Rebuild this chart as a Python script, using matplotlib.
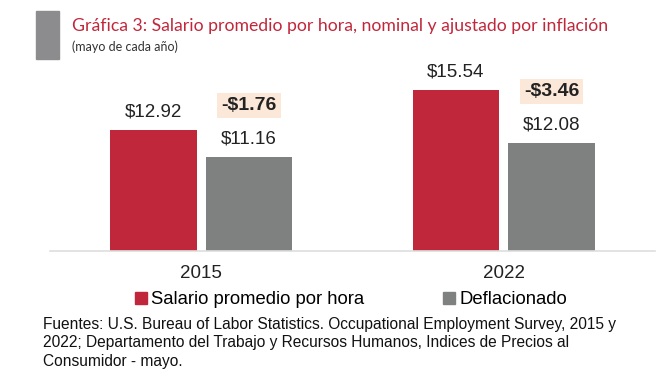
import matplotlib
matplotlib.use('Agg')
import matplotlib.pyplot as plt
from matplotlib.patches import Patch, Rectangle
import numpy as np

years = ['2015', '2022']
nominal = [12.92, 15.54]
deflated = [11.16, 12.08]
series_names = ['Salario promedio por hora', 'Deflacionado']

red = '#c1273b'
gray = '#7f8181'
peach = '#fce8d8'

plt.rcParams['font.family'] = ['Liberation Sans', 'DejaVu Sans']

fig = plt.figure(figsize=(6.67, 3.79), dpi=100)
ax = fig.add_axes([50/667, 1 - 251/379, 605/667, 191/379])

x = np.arange(len(years))
w = 0.285
off = 0.158
ax.bar(x - off, nominal, w, color=red)
ax.bar(x + off, deflated, w, color=gray)

ax.set_xlim(-0.5, 1.5)
ax.set_ylim(5, 17.5)

for i in range(len(years)):
    ax.annotate(f'${nominal[i]:.2f}', (x[i] - off, nominal[i]), xytext=(0, 13),
                textcoords='offset points', ha='center', va='center',
                fontsize=13.5, color='#222222')
    ax.annotate(f'${deflated[i]:.2f}', (x[i] + off, deflated[i]), xytext=(0, 13),
                textcoords='offset points', ha='center', va='center',
                fontsize=13.5, color='#222222')
    diff = deflated[i] - nominal[i]
    ax.annotate(f'-${abs(diff):.2f}', (x[i] + off, deflated[i]), xytext=(0, 37),
                textcoords='offset points', ha='center', va='center',
                fontsize=14, fontweight='bold', color='#222222',
                bbox=dict(boxstyle='square,pad=0.2', fc=peach, ec='none'))

for s in ['top', 'right', 'left']:
    ax.spines[s].set_visible(False)
ax.spines['bottom'].set_color('#dedede')
ax.spines['bottom'].set_linewidth(1.2)
ax.set_yticks([])
ax.set_xticks(x)
ax.set_xticklabels(years, fontsize=13.5, color='#222222')
ax.tick_params(axis='x', length=0, pad=10)

handles = [Patch(color=red), Patch(color=gray)]
fig.legend(handles, series_names, loc='center', bbox_to_anchor=(351/667, 1 - 300/379),
           ncol=2, frameon=False, fontsize=13.3, handlelength=0.65, handleheight=0.65,
           handletextpad=0.2, columnspacing=4.3)

# header
fig.patches.append(Rectangle((36/667, 1 - 59/379), 23/667, 48/379,
                             transform=fig.transFigure, color='#8c8c8e'))
fig.text(72/667, 1 - 26/379, 'Gráfica 3: Salario promedio por hora, nominal y ajustado por inflación',
         ha='left', va='center', fontsize=12.7, color=red, family=['Lato', 'DejaVu Sans'])
fig.text(72/667, 1 - 47/379, '(mayo de cada año)', ha='left', va='center',
         fontsize=9, color='#333333', family=['Lato', 'DejaVu Sans'])

fig.text(43/667, 1 - 343/379,
         'Fuentes: U.S. Bureau of Labor Statistics. Occupational Employment Survey, 2015 y\n'
         '2022; Departamento del Trabajo y Recursos Humanos, Indices de Precios al\n'
         'Consumidor - mayo.',
         ha='left', va='center', fontsize=11.2, color='#111111', linespacing=1.27)

fig.savefig('out.png', dpi=100)
